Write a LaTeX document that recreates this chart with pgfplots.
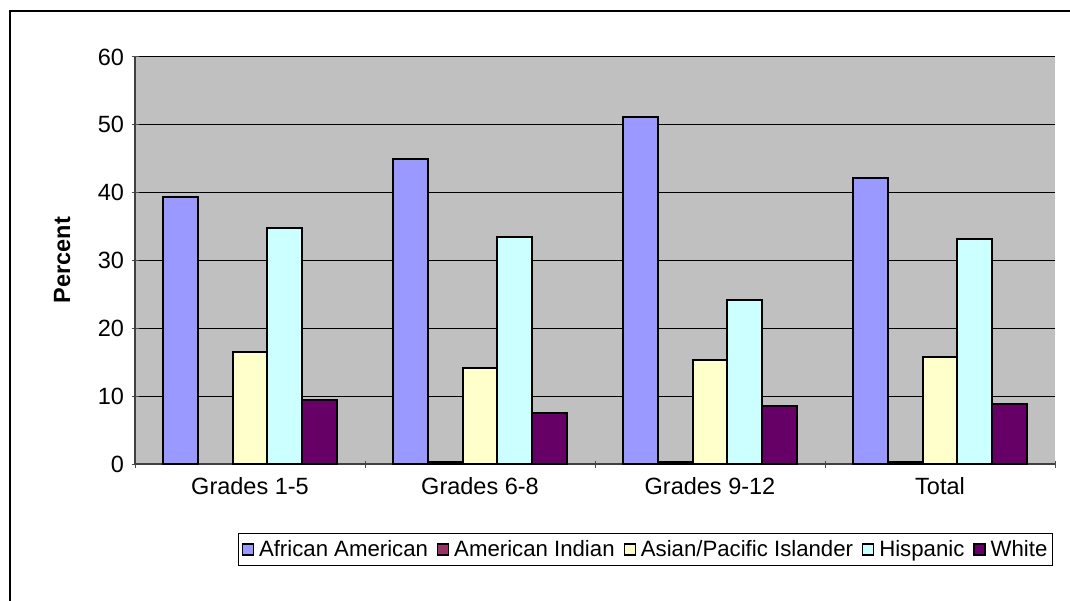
\documentclass[border=0pt]{standalone}
\usepackage{fontspec}
\setmainfont{Liberation Sans}
\usepackage{pgfplots}
\pgfplotsset{compat=1.18}

\definecolor{plotbg}{HTML}{C0C0C0}
\definecolor{cAA}{HTML}{9999FF}
\definecolor{cAI}{HTML}{993366}
\definecolor{cAS}{HTML}{FFFFCC}
\definecolor{cHI}{HTML}{CCFFFF}
\definecolor{cWH}{HTML}{660066}

\begin{document}
\begin{tikzpicture}
\useasboundingbox (0pt,0pt) rectangle (1070pt,-601pt);
\draw[line width=2pt] (10pt,-11pt) rectangle (1085pt,-615pt);
\begin{axis}[
    at={(135pt,-464pt)}, anchor=south west,
    scale only axis, width=920pt, height=407pt,
    ybar=0pt, bar width=0.152,
    xmin=-0.5, xmax=3.5, ymin=0, ymax=60,
    ytick={0,10,...,60},
    xtick={-0.5,0.5,1.5,2.5,3.5}, xticklabels={},
    extra x ticks={0,1,2,3},
    extra x tick labels={Grades 1-5,Grades 6-8,Grades 9-12,Total},
    extra x tick style={major tick length=0pt},
    tick align=outside, major tick length=7pt,
    tick style={draw=gray!60!black, line width=1pt},
    axis lines=left,
    axis line style={-, draw=gray!50!black, line width=1.8pt},
    axis background/.style={fill=plotbg},
    ymajorgrids, grid style={black, line width=1pt},
    /pgf/number format/assume math mode=true,
    tick label style={font=\fontsize{23.5}{27}\selectfont},
    yticklabel style={xshift=-4pt},
    xticklabel style={yshift=-10pt},
    ylabel={Percent},
    every axis y label/.style={at={(axis description cs:-0.0793,0.501)}, anchor=center, rotate=90,
        font=\fontsize{23.5}{27}\selectfont\bfseries},
    legend columns=5,
    legend style={at={(axis description cs:0.555,-0.21)}, anchor=center,
        draw=black, line width=1pt, font=\fontsize{22.2}{27}\selectfont,
        inner xsep=3pt, inner ysep=5pt,
        /tikz/every odd column/.append style={column sep=3pt},
        /tikz/every even column/.append style={column sep=7pt}},
    legend image code/.code={\draw[#1, line width=1.2pt] (0pt,-5.5pt) rectangle (11pt,5.5pt);},
]
\addplot[fill=cAA, draw=black, line width=2pt] coordinates {(0,39.4) (1,45.0) (2,51.2) (3,42.2)};
\addlegendentry{African American}
\addplot[fill=cAI, draw=black, line width=2pt] coordinates {(1,0.3) (2,0.3) (3,0.3)};
\addlegendentry{American Indian}
\addplot[fill=cAS, draw=black, line width=2pt] coordinates {(0,16.5) (1,14.2) (2,15.3) (3,15.8)};
\addlegendentry{Asian/Pacific Islander}
\addplot[fill=cHI, draw=black, line width=2pt] coordinates {(0,34.8) (1,33.5) (2,24.2) (3,33.2)};
\addlegendentry{Hispanic}
\addplot[fill=cWH, draw=black, line width=2pt] coordinates {(0,9.4) (1,7.5) (2,8.6) (3,8.8)};
\addlegendentry{White}
\end{axis}
\end{tikzpicture}
\end{document}
